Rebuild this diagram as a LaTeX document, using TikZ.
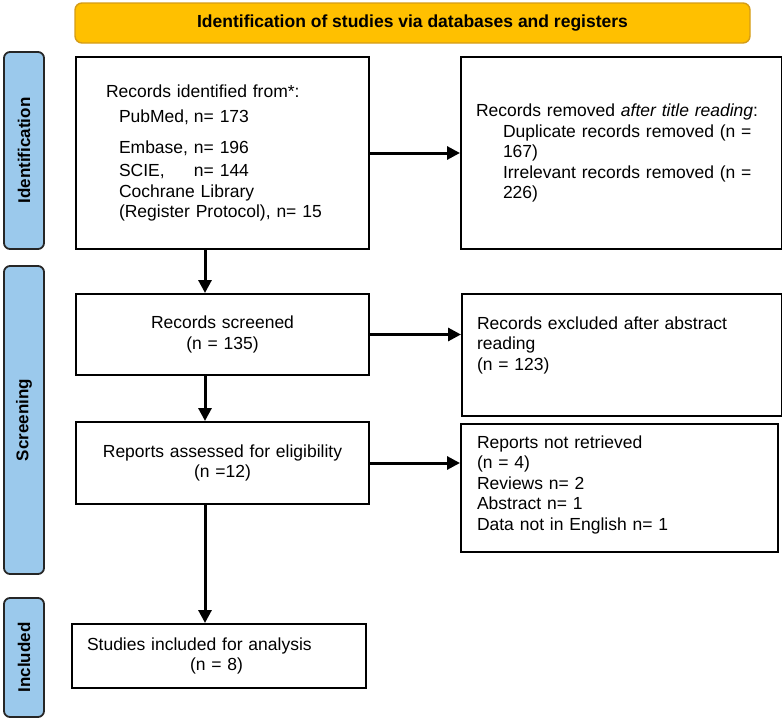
\documentclass[tikz,border=0pt]{standalone}
\usepackage{fontspec}
\setmainfont{Liberation Sans}
\usetikzlibrary{arrows.meta}
\definecolor{bannerfill}{RGB}{255,192,0}
\definecolor{bannerdraw}{RGB}{212,156,24}
\definecolor{phasefill}{RGB}{155,201,236}
\definecolor{phasedraw}{RGB}{38,38,38}

\begin{document}
\begin{tikzpicture}[x=1pt, y=-1pt,
	every node/.style={font=\fontsize{17.5}{20.5}\selectfont},
	>={Triangle[length=13pt, width=13pt]},
	box/.style={draw, line width=2pt, anchor=north west, inner ysep=0pt, align=left},
	banner/.style={draw=bannerdraw, fill=bannerfill, line width=1.4pt, rounded corners=7pt, font=\bfseries\fontsize{17.5}{20.5}\selectfont},
	phase/.style={draw=phasedraw, fill=phasefill, line width=1.8pt, rounded corners=6pt, rotate=90, minimum height=40pt, inner sep=0pt, font=\bfseries\fontsize{17}{20}\selectfont},
	flow/.style={->, line width=3pt}]
	\useasboundingbox (0,0) rectangle (782,720);
	\node[banner, minimum width=675pt, minimum height=40pt] (title) at (412.5,23) {Identification of studies via databases and registers};
	\node[phase, minimum width=197pt] (idphase) at (24,150.5) {Identification};
	\node[phase, minimum width=308pt] (scphase) at (24,420) {Screening};
	\node[phase, minimum width=119pt] (inphase) at (24,657.5) {Included};
	\node[box, minimum width=293pt, minimum height=192pt, inner xsep=30pt, text width=233pt] (ident) at (75,56) {Records identified from*:\\[5pt]
		\hspace*{13pt}\makebox[75pt][l]{PubMed,}n= 173\\[10pt]
		\hspace*{13pt}\makebox[75pt][l]{Embase,}n= 196\\[3pt]
		\hspace*{13pt}\makebox[75pt][l]{SCIE,}n= 144\\
		\hspace*{13pt}Cochrane Library\\
		\hspace*{13pt}(Register Protocol), n= 15};
	\node[box, minimum width=321pt, minimum height=192pt, inner xsep=15pt, text width=291pt] (removed) at (460,56) {Records removed \textit{after title reading}:\\
		\hspace*{27pt}Duplicate records removed (n =\\
		\hspace*{27pt}167)\\
		\hspace*{27pt}Irrelevant records removed (n =\\
		\hspace*{27pt}226)};
	\node[box, minimum width=293pt, minimum height=81pt, align=center, text width=263pt] (screened) at (75,293) {Records screened\\(n = 135)};
	\node[box, minimum width=320pt, minimum height=122pt, inner xsep=15pt, text width=290pt, text depth=64pt] (excluded) at (461,293) {Records excluded after abstract\\reading\\(n = 123)};
	\node[box, minimum width=293pt, minimum height=82pt, align=center, text width=263pt] (assessed) at (75,421) {Reports assessed for eligibility\\(n =12)};
	\node[box, minimum width=317pt, minimum height=128pt, inner xsep=16pt, text width=285pt, text depth=92pt] (notretr) at (460,423) {Reports not retrieved\\(n = 4)\\Reviews n= 2\\Abstract n= 1\\Data not in English n= 1};
	\node[box, minimum width=294pt, minimum height=64pt, inner xsep=15pt, text width=264pt] (included) at (71,623) {Studies included for analysis\\\hspace*{103pt}(n = 8)};
	\coordinate (trunk) at (205,0);
	\draw[flow] (ident.east) -- (removed.west);
	\draw[flow] (screened.east) -- (screened.east -| excluded.west);
	\draw[flow] (assessed.east) -- (assessed.east -| notretr.west);
	\draw[flow] (ident.south -| trunk) -- (screened.north -| trunk);
	\draw[flow] (screened.south -| trunk) -- (assessed.north -| trunk);
	\draw[flow] (assessed.south -| trunk) -- (included.north -| trunk);
\end{tikzpicture}
\end{document}
